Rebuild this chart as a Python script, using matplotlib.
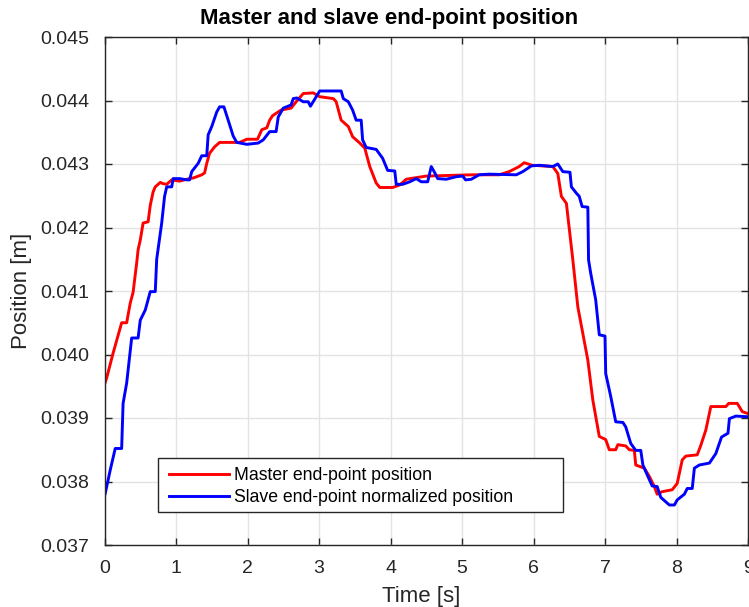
import matplotlib
matplotlib.use("Agg")
import matplotlib.pyplot as plt
from matplotlib.ticker import FormatStrFormatter, MultipleLocator
from matplotlib.patches import Rectangle

plt.rcParams['font.family'] = ['Liberation Sans', 'DejaVu Sans']

# ---- data ----
master_t = [0.007, 0.03, 0.12, 0.24, 0.31, 0.36, 0.40, 0.45, 0.47, 0.50, 0.54, 0.61, 0.64, 0.68, 0.71,
            0.78, 0.82, 0.87, 0.94, 1.05, 1.15, 1.24, 1.29, 1.36, 1.40, 1.43, 1.47, 1.54, 1.61, 1.89,
            1.99, 2.14, 2.20, 2.27, 2.31, 2.35, 2.47, 2.61, 2.68, 2.78, 2.92, 3.01, 3.20, 3.24, 3.31,
            3.41, 3.47, 3.57, 3.64, 3.71, 3.80, 3.85, 4.03, 4.13, 4.22, 4.50, 5.15, 5.52, 5.66, 5.80,
            5.87, 5.98, 6.27, 6.34, 6.39, 6.46, 6.55, 6.62, 6.76, 6.83, 6.92, 7.01, 7.06, 7.15, 7.18,
            7.29, 7.34, 7.41, 7.43, 7.55, 7.62, 7.69, 7.73, 7.80, 7.94, 8.01, 8.08, 8.13, 8.29, 8.34,
            8.41, 8.48, 8.69, 8.73, 8.85, 8.92, 9.0]
master_pos = [0.03955, 0.03963, 0.04002, 0.04050, 0.04050, 0.04081, 0.04098, 0.04144, 0.04165, 0.04180,
              0.04207, 0.04209, 0.04235, 0.04256, 0.04264, 0.04271, 0.04269, 0.04268, 0.04275, 0.04273,
              0.04276, 0.04278, 0.04280, 0.04283, 0.04286, 0.04301, 0.04317, 0.04327, 0.04334, 0.04334,
              0.04339, 0.04339, 0.04354, 0.04357, 0.04369, 0.04376, 0.04385, 0.04388, 0.04398, 0.04411,
              0.04412, 0.04406, 0.04403, 0.04398, 0.04369, 0.04359, 0.04343, 0.04333, 0.04325, 0.04296,
              0.04270, 0.04263, 0.04263, 0.04267, 0.04276, 0.04281, 0.04283, 0.04283, 0.04288, 0.04296,
              0.04302, 0.04298, 0.04296, 0.04285, 0.04249, 0.04238, 0.04149, 0.04075, 0.03991, 0.03928,
              0.03871, 0.03866, 0.03850, 0.03850, 0.03858, 0.03856, 0.03850, 0.03849, 0.03826, 0.03821,
              0.03808, 0.03792, 0.03780, 0.03784, 0.03787, 0.03797, 0.03834, 0.03840, 0.03842, 0.03857,
              0.03881, 0.03918, 0.03918, 0.03923, 0.03923, 0.03910, 0.03907]

slave_t = [0.01, 0.08, 0.15, 0.24, 0.26, 0.31, 0.38, 0.47, 0.50, 0.57, 0.64, 0.71, 0.73, 0.80, 0.84,
           0.87, 0.94, 0.96, 1.05, 1.15, 1.19, 1.22, 1.31, 1.36, 1.43, 1.45, 1.50, 1.57, 1.61, 1.67,
           1.73, 1.80, 1.85, 1.99, 2.15, 2.22, 2.31, 2.40, 2.43, 2.50, 2.61, 2.64, 2.69, 2.78, 2.85,
           2.88, 2.94, 3.01, 3.31, 3.34, 3.41, 3.47, 3.52, 3.59, 3.61, 3.66, 3.80, 3.89, 3.96, 4.06,
           4.08, 4.17, 4.27, 4.36, 4.43, 4.52, 4.57, 4.62, 4.66, 4.78, 4.92, 5.01, 5.05, 5.13, 5.24,
           5.38, 5.76, 5.85, 5.97, 6.08, 6.27, 6.34, 6.41, 6.51, 6.53, 6.60, 6.64, 6.68, 6.76, 6.77,
           6.80, 6.87, 6.92, 7.00, 7.01, 7.08, 7.15, 7.25, 7.29, 7.36, 7.43, 7.50, 7.53, 7.60, 7.66,
           7.73, 7.78, 7.85, 7.90, 7.97, 8.01, 8.11, 8.15, 8.22, 8.25, 8.32, 8.46, 8.55, 8.63, 8.72,
           8.74, 8.83, 9.0]
slave_pos = [0.03781, 0.03818, 0.03852, 0.03852, 0.03923, 0.03955, 0.04026, 0.04026, 0.04054, 0.04070,
             0.04099, 0.04099, 0.04150, 0.04207, 0.04249, 0.04264, 0.04264, 0.04277, 0.04277, 0.04275,
             0.04275, 0.04288, 0.04301, 0.04313, 0.04313, 0.04346, 0.04359, 0.04382, 0.04390, 0.04390,
             0.04369, 0.04344, 0.04334, 0.04331, 0.04333, 0.04338, 0.04351, 0.04351, 0.04374, 0.04388,
             0.04393, 0.04403, 0.04404, 0.04398, 0.04398, 0.04391, 0.04402, 0.04415, 0.04415, 0.04403,
             0.04398, 0.04385, 0.04369, 0.04369, 0.04338, 0.04326, 0.04323, 0.04309, 0.04290, 0.04289,
             0.04268, 0.04268, 0.04272, 0.04277, 0.04272, 0.04272, 0.04296, 0.04286, 0.04277, 0.04276,
             0.04280, 0.04281, 0.04275, 0.04276, 0.04283, 0.04284, 0.04283, 0.04288, 0.04297, 0.04298,
             0.04296, 0.04300, 0.04288, 0.04287, 0.04264, 0.04254, 0.04249, 0.04233, 0.04232, 0.04149,
             0.04128, 0.04086, 0.04031, 0.04029, 0.03970, 0.03934, 0.03894, 0.03893, 0.03886, 0.03860,
             0.03849, 0.03849, 0.03826, 0.03808, 0.03793, 0.03792, 0.03775, 0.03768, 0.03763, 0.03763,
             0.03771, 0.03780, 0.03789, 0.03789, 0.03821, 0.03826, 0.03829, 0.03844, 0.03870, 0.03876,
             0.03899, 0.03903, 0.03902]

title = "Master and slave end-point position"
xlabel = "Time [s]"
ylabel = "Position [m]"
legend_labels = ["Master end-point position", "Slave end-point normalized position"]

# ---- figure ----
W, H = 749, 607
fig = plt.figure(figsize=(W / 100, H / 100), dpi=100)
ax = fig.add_axes([104.5 / W, 1 - 545 / H, (748 - 104.5) / W, (545 - 37) / H])

ax.plot(master_t, master_pos, color=(1, 0, 0), lw=2.1, label=legend_labels[0])
ax.plot(slave_t, slave_pos, color=(0, 0, 1), lw=2.1, label=legend_labels[1])

ax.set_xlim(0, 9)
ax.set_ylim(0.037, 0.045)
ax.xaxis.set_major_locator(MultipleLocator(1))
ax.yaxis.set_major_locator(MultipleLocator(0.001))
ax.yaxis.set_major_formatter(FormatStrFormatter('%.3f'))
ax.grid(True, color='#e3e3e3', lw=1.0)
ax.set_axisbelow(True)

for s in ax.spines.values():
    s.set_color('#262626')
    s.set_linewidth(1.0)
ax.tick_params(direction='in', length=5, width=1.0, color='#262626', labelcolor='#262626',
               labelsize=14, top=True, right=True, pad=11)

fig.text(389 / W, 1 - 18.5 / H, title, fontsize=16, fontweight='bold', color='black',
         ha='center', va='center')
ax.set_xlabel(xlabel, fontsize=16, color='#262626', labelpad=6)
ax.xaxis.label.set_x((421 - 104.5) / 643.5)
ax.set_ylabel(ylabel, fontsize=16, color='#262626', labelpad=6)

# legend box (MATLAB-style, wider than its text)
ax_w, ax_h = 643.5, 508.0
frame = Rectangle(((158 - 104.5) / ax_w, (545 - 512) / ax_h),
                  (563 - 158) / ax_w, (512 - 458) / ax_h,
                  transform=ax.transAxes, facecolor='white', edgecolor='#262626',
                  lw=1.0, zorder=4)
ax.add_patch(frame)
leg = ax.legend(loc='lower left', bbox_to_anchor=((163 - 104.5) / ax_w, 0.065), borderaxespad=0,
                fontsize=12.7, frameon=False,
                handlelength=3.4, handletextpad=0.3, borderpad=0.35, labelspacing=0.25)
leg.set_zorder(5)

fig.savefig("out.png", dpi=100)
